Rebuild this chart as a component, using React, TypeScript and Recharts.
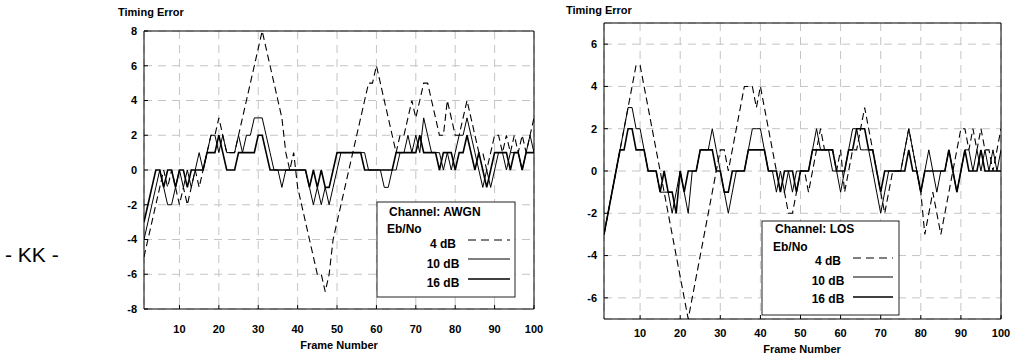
import React from 'react';
import { LineChart, Line, XAxis, YAxis, CartesianGrid } from 'recharts';

const frames = Array.from({ length: 100 }, (_, i) => i + 1);
const xTicks = [10, 20, 30, 40, 50, 60, 70, 80, 90, 100];
const awgnYTicks = [-8, -6, -4, -2, 0, 2, 4, 6, 8];
const losYTicks = [-6, -4, -2, 0, 2, 4, 6];

// AWGN channel
const awgn4 = [
  -5, -4, -3, -2, -1, 0, -1, 0, -1, -2,
  -1, -2, -1, 0, -1, 0, 1, 2, 2, 3,
  2, 1, 1, 1, 2, 3, 4, 5, 6, 7,
  8, 7, 6, 5, 4, 3, 1, 0, 1, -1,
  -2, -3, -4, -5, -6, -6, -7, -6, -4, -3,
  -2, -1, 0, 1, 2, 3, 4, 5, 5, 6,
  5, 4, 3, 2, 1, 2, 2, 3, 4, 3,
  4, 5, 5, 4, 3, 2, 2, 4, 3, 2,
  2, 3, 4, 3, 2, 1, 1, 0, 1, 2,
  2, 1, 2, 1, 2, 1, 2, 1, 2, 3,
];
const awgn10 = [
  -4, -3, -2, -1, 0, -1, -2, -2, -1, 0,
  -1, 0, -1, 0, 1, 0, 1, 2, 2, 1,
  2, 1, 1, 1, 2, 1, 2, 2, 3, 3,
  3, 2, 1, 0, 0, -1, 0, 0, 0, 0,
  0, 0, -1, -2, -1, -2, -1, -2, -1, 0,
  1, 1, 1, 1, 1, 1, 1, 0, 0, 0,
  0, -1, -1, 0, 0, 1, 1, 2, 1, 2,
  1, 3, 2, 1, 1, 1, 0, 1, 0, 1,
  2, 2, 3, 2, 1, 0, -1, 0, -1, 0,
  1, 1, 0, 1, 1, 1, 0, 1, 2, 1,
];
const awgn16 = [
  -3, -2, -1, 0, 0, -1, 0, 0, -1, 0,
  0, -1, 0, 0, 0, 0, 1, 1, 1, 2,
  1, 0, 0, 0, 1, 1, 1, 1, 1, 2,
  2, 1, 0, 0, 0, 0, 0, 0, 0, 0,
  0, 0, -1, 0, -1, 0, -1, -1, 0, 1,
  1, 1, 1, 1, 1, 1, 0, 0, 0, 0,
  0, 0, 0, 0, 1, 1, 1, 1, 1, 1,
  2, 1, 1, 1, 1, 0, 1, 1, 1, 0,
  1, 1, 2, 1, 0, 1, 0, -1, 0, 1,
  1, 1, 1, 0, 1, 1, 0, 1, 1, 1,
];

// LOS channel
const los4 = [
  -3, -2, -1, 0, 1, 2, 3, 4, 5, 5,
  4, 3, 2, 1, 0, -1, -2, -3, -4, -5,
  -6, -7, -6, -5, -4, -3, -2, -1, 0, 1,
  1, 0, 1, 2, 3, 4, 4, 4, 3, 4,
  3, 2, 1, 0, -1, -1, -2, -2, -1, 0,
  0, -1, 0, 1, 2, 1, 1, 1, 0, 1,
  -1, 0, 1, 1, 2, 3, 2, 1, 0, -1,
  -2, -1, 0, 0, 0, 1, 2, 1, 0, -1,
  -3, -2, -1, -2, -3, -2, -1, 0, 1, 2,
  2, 1, 2, 1, 2, 1, 1, 0, 1, 2,
];
const los10 = [
  -3, -2, -1, 0, 1, 2, 3, 3, 2, 2,
  1, 0, 0, 0, -1, -1, -1, -2, -1, 0,
  -1, -2, 0, 0, 1, 1, 1, 2, 1, 0,
  -1, -2, -1, 0, 0, 0, 1, 2, 2, 2,
  1, 0, 0, -1, 0, -1, 0, -1, 0, 0,
  0, 0, 1, 2, 1, 1, 1, 0, 0, -1,
  0, 1, 2, 2, 1, 1, 1, 0, -1, -2,
  -1, 0, 0, 0, 0, 1, 2, 1, 0, -1,
  0, 1, 0, -1, 0, 0, 1, 0, -1, 0,
  1, 1, 0, 1, 0, 1, 0, 1, 0, 1,
];
const los16 = [
  -3, -2, -1, 0, 1, 1, 2, 2, 1, 1,
  1, 0, 0, 0, -1, 0, -1, -1, -2, 0,
  -1, 0, 0, 0, 1, 1, 1, 1, 0, 0,
  -1, -1, 0, 0, 0, 0, 1, 1, 1, 1,
  1, 0, 0, 0, -1, 0, 0, 0, -1, 0,
  0, 0, 1, 1, 1, 1, 1, 1, 0, 0,
  0, 1, 1, 2, 2, 2, 1, 1, 0, -1,
  0, 0, 0, 0, 0, 0, 1, 0, 0, -1,
  0, 0, 0, 0, 0, 0, 1, 0, -1, 0,
  1, 0, 0, 0, 1, 0, 0, 0, 0, 0,
];

const font = '"Liberation Sans", Arial, sans-serif';
const tickStyle = { fill: '#000', fontSize: 11, fontWeight: 'bold', fontFamily: font };
const gridColor = '#c4c4c4';

type PanelProps = {
  left: number;
  width: number;
  margin: { top: number; right: number; bottom: number; left: number };
  yAxisWidth: number;
  xAxisHeight: number;
  xTickMargin: number;
  yDomain: [number, number];
  yTicks: number[];
  s4: number[];
  s10: number[];
  s16: number[];
};

const Panel = ({ left, width, margin, yAxisWidth, xAxisHeight, xTickMargin, yDomain, yTicks, s4, s10, s16 }: PanelProps) => {
  const data = frames.map((f, i) => ({ frame: f, db4: s4[i], db10: s10[i], db16: s16[i] }));
  return (
    <div style={{ position: 'absolute', left, top: 0 }}>
      <LineChart width={width} height={357} data={data} margin={margin}>
        <CartesianGrid stroke={gridColor} strokeDasharray="8 6" />
        <XAxis
          dataKey="frame"
          type="number"
          domain={[1, 100]}
          ticks={xTicks}
          allowDataOverflow
          height={xAxisHeight}
          tickSize={-4}
          tickMargin={xTickMargin}
          tick={tickStyle}
          stroke="#000"
        />
        <XAxis
          xAxisId="top"
          orientation="top"
          dataKey="frame"
          type="number"
          domain={[1, 100]}
          ticks={xTicks}
          allowDataOverflow
          height={1}
          tickSize={-4}
          tick={false}
          stroke="#000"
        />
        <YAxis
          type="number"
          domain={yDomain}
          ticks={yTicks}
          allowDataOverflow
          width={yAxisWidth}
          tickSize={-4}
          tickMargin={11}
          tick={tickStyle}
          stroke="#000"
        />
        <YAxis
          yAxisId="right"
          orientation="right"
          type="number"
          domain={yDomain}
          ticks={yTicks}
          allowDataOverflow
          width={1}
          tickSize={-4}
          tick={false}
          stroke="#000"
        />
        <Line type="linear" dataKey="db4" stroke="#000" strokeWidth={1.1} strokeDasharray="7 4" dot={false} isAnimationActive={false} />
        <Line type="linear" dataKey="db10" stroke="#000" strokeWidth={1} dot={false} isAnimationActive={false} />
        <Line type="linear" dataKey="db16" stroke="#000" strokeWidth={1.6} dot={false} isAnimationActive={false} />
      </LineChart>
    </div>
  );
};

type LegendBoxProps = {
  x: number;
  y: number;
  w: number;
  h: number;
  title: string;
  textX: number;
  labelX: number;
  baselines: number[];
  lineX1: number;
  lineX2: number;
  lineYs: number[];
};

const LegendBox = ({ x, y, w, h, title, textX, labelX, baselines, lineX1, lineX2, lineYs }: LegendBoxProps) => (
  <g fontFamily={font} fontWeight="bold" fontSize={12} fill="#000">
    <rect x={x} y={y} width={w} height={h} fill="#fff" stroke="#222" strokeWidth={1} />
    <text x={textX} y={baselines[0]}>{title}</text>
    <text x={textX - 2} y={baselines[1]}>Eb/No</text>
    <text x={labelX} y={baselines[2]} textAnchor="middle">4 dB</text>
    <text x={labelX} y={baselines[3]} textAnchor="middle">10 dB</text>
    <text x={labelX} y={baselines[4]} textAnchor="middle">16 dB</text>
    <line x1={lineX1} x2={lineX2} y1={lineYs[0]} y2={lineYs[0]} stroke="#000" strokeDasharray="8 5" />
    <line x1={lineX1} x2={lineX2} y1={lineYs[1]} y2={lineYs[1]} stroke="#000" strokeWidth={1} />
    <line x1={lineX1} x2={lineX2} y1={lineYs[2]} y2={lineYs[2]} stroke="#000" strokeWidth={1.6} />
  </g>
);

export default function App() {
  return (
    <div style={{ position: 'fixed', left: 0, top: 0, width: 1015, height: 357, background: '#fff', overflow: 'hidden' }}>
      <Panel
        left={0}
        width={560}
        margin={{ top: 30, right: 25, bottom: 8, left: 0 }}
        yAxisWidth={144}
        xAxisHeight={40}
        xTickMargin={20}
        yDomain={[-8, 8]}
        yTicks={awgnYTicks}
        s4={awgn4}
        s10={awgn10}
        s16={awgn16}
      />
      <Panel
        left={560}
        width={455}
        margin={{ top: 22, right: 13, bottom: 0, left: 0 }}
        yAxisWidth={44}
        xAxisHeight={38}
        xTickMargin={14}
        yDomain={[-7, 7]}
        yTicks={losYTicks}
        s4={los4}
        s10={los10}
        s16={los16}
      />
      <svg width={1015} height={357} style={{ position: 'absolute', left: 0, top: 0, pointerEvents: 'none' }}>
        <text x={5} y={262} fontFamily={font} fontSize={21} fill="#000">- KK -</text>
        <g fontFamily={font} fontWeight="bold" fontSize={11} fill="#000">
          <text x={118} y={16}>Timing Error</text>
          <text x={566} y={14}>Timing Error</text>
          <text x={339} y={349} textAnchor="middle">Frame Number</text>
          <text x={802} y={353} textAnchor="middle">Frame Number</text>
        </g>
        <LegendBox
          x={377} y={202} w={138} h={95}
          title="Channel: AWGN"
          textX={389} labelX={443}
          baselines={[216, 233, 248, 268, 287]}
          lineX1={468} lineX2={510}
          lineYs={[240, 259, 279]}
        />
        <LegendBox
          x={762} y={221} w={137} h={94}
          title="Channel: LOS"
          textX={775} labelX={828}
          baselines={[233, 251, 265, 285, 303]}
          lineX1={853} lineX2={893}
          lineYs={[258, 277, 297]}
        />
      </svg>
    </div>
  );
}
